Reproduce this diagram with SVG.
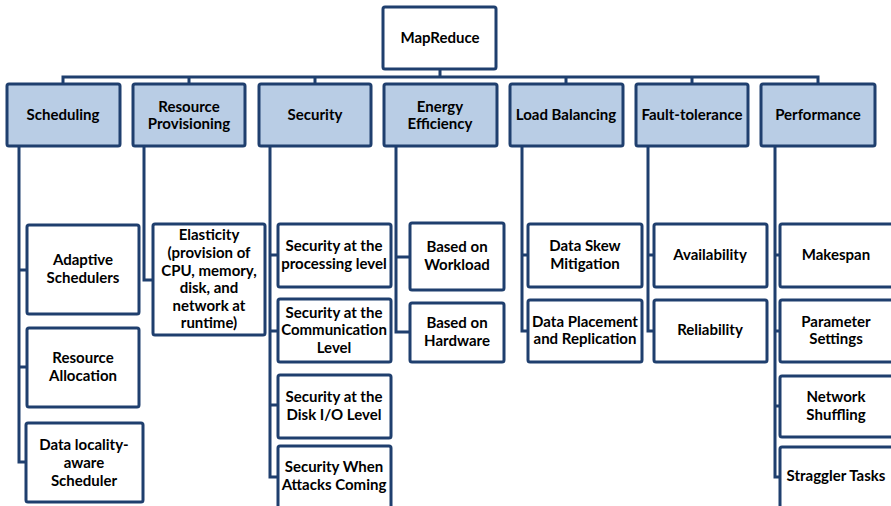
<svg xmlns="http://www.w3.org/2000/svg" width="891" height="506" viewBox="0 0 891 506">
  <style>
    .box { fill: #ffffff; stroke: #1f3f6e; stroke-width: 3; }
    .cat { fill: #b9cde5; stroke: #1f3f6e; stroke-width: 3; }
    .wire { fill: none; stroke: #1f3f6e; stroke-width: 3; stroke-linejoin: miter; }
    text { font-family: "Lato", "Open Sans", "Liberation Sans", sans-serif; font-weight: bold; font-size: 15px; fill: #000000; text-anchor: middle; }
  </style>
  <rect width="891" height="506" fill="#ffffff"/>

  <!-- connectors -->
  <g id="connectors" class="wire">
    <path d="M440 69 V77 M63 84 V77 H818 V84 M189 77 V84 M315 77 V84 M566 77 V84 M692 77 V84"/>
    <!-- Scheduling spine -->
    <path d="M19 146 V462 H26 M19 270 H27 M19 367 H27"/>
    <!-- Resource Provisioning spine -->
    <path d="M144 146 V280 H153"/>
    <!-- Security spine -->
    <path d="M270 146 V477 H278 M270 255 H278 M270 331 H278 M270 405 H278"/>
    <!-- Energy Efficiency spine -->
    <path d="M396 146 V332 H410 M396 257 H410"/>
    <!-- Load Balancing spine -->
    <path d="M522 146 V331 H528 M522 255 H528"/>
    <!-- Fault-tolerance spine -->
    <path d="M648 146 V331 H654 M648 255 H654"/>
    <!-- Performance spine -->
    <path d="M775 146 V477 H780 M775 255 H780 M775 331 H780 M775 406 H780"/>
  </g>

  <g id="root">
    <rect class="box" x="383" y="7" width="113" height="62" rx="2"/>
    <text x="440" y="43">MapReduce</text>
  </g>

  <g id="scheduling">
    <rect class="cat" x="7" y="84" width="113" height="62" rx="2"/>
    <text x="63" y="120">Scheduling</text>
  </g>
  <g id="resource-provisioning">
    <rect class="cat" x="133" y="84" width="112" height="62" rx="2"/>
    <text x="189" y="112">Resource</text>
    <text x="189" y="129">Provisioning</text>
  </g>
  <g id="security">
    <rect class="cat" x="259" y="84" width="112" height="62" rx="2"/>
    <text x="315" y="120">Security</text>
  </g>
  <g id="energy-efficiency">
    <rect class="cat" x="384" y="84" width="113" height="62" rx="2"/>
    <text x="440" y="112">Energy</text>
    <text x="440" y="129">Efficiency</text>
  </g>
  <g id="load-balancing">
    <rect class="cat" x="510" y="84" width="113" height="62" rx="2"/>
    <text x="566" y="120">Load Balancing</text>
  </g>
  <g id="fault-tolerance">
    <rect class="cat" x="636" y="84" width="112" height="62" rx="2"/>
    <text x="692" y="120">Fault-tolerance</text>
  </g>
  <g id="performance">
    <rect class="cat" x="761" y="84" width="114" height="62" rx="2"/>
    <text x="818" y="120">Performance</text>
  </g>

  <!-- Scheduling children -->
  <g id="adaptive-schedulers">
    <rect class="box" x="27" y="225" width="112" height="89" rx="2"/>
    <text x="83" y="265">Adaptive</text>
    <text x="83" y="283">Schedulers</text>
  </g>
  <g id="resource-allocation">
    <rect class="box" x="27" y="328" width="112" height="79" rx="2"/>
    <text x="83" y="363">Resource</text>
    <text x="83" y="381">Allocation</text>
  </g>
  <g id="data-locality">
    <rect class="box" x="26" y="423" width="117" height="79" rx="2"/>
    <text x="84" y="450">Data locality-</text>
    <text x="84" y="468">aware</text>
    <text x="84" y="486">Scheduler</text>
  </g>

  <!-- Resource Provisioning child -->
  <g id="elasticity">
    <rect class="box" x="153" y="224" width="112" height="111" rx="2"/>
    <text x="209" y="240">Elasticity</text>
    <text x="209" y="258">(provision of</text>
    <text x="209" y="276">CPU, memory,</text>
    <text x="209" y="293">disk, and</text>
    <text x="209" y="311">network at</text>
    <text x="209" y="328">runtime)</text>
  </g>

  <!-- Security children -->
  <g id="sec-processing">
    <rect class="box" x="278" y="224" width="113" height="63" rx="2"/>
    <text x="334" y="251">Security at the</text>
    <text x="334" y="269">processing level</text>
  </g>
  <g id="sec-communication">
    <rect class="box" x="278" y="299" width="113" height="63" rx="2"/>
    <text x="334" y="318">Security at the</text>
    <text x="334" y="335">Communication</text>
    <text x="334" y="353">Level</text>
  </g>
  <g id="sec-disk">
    <rect class="box" x="278" y="375" width="113" height="63" rx="2"/>
    <text x="334" y="402">Security at the</text>
    <text x="334" y="420">Disk I/O Level</text>
  </g>
  <g id="sec-attacks">
    <rect class="box" x="278" y="446" width="113" height="62" rx="2"/>
    <text x="334" y="472">Security When</text>
    <text x="334" y="490">Attacks Coming</text>
  </g>

  <!-- Energy Efficiency children -->
  <g id="workload">
    <rect class="box" x="410" y="223" width="94" height="67" rx="2"/>
    <text x="457" y="252">Based on</text>
    <text x="457" y="270">Workload</text>
  </g>
  <g id="hardware">
    <rect class="box" x="410" y="303" width="94" height="59" rx="2"/>
    <text x="457" y="328">Based on</text>
    <text x="457" y="346">Hardware</text>
  </g>

  <!-- Load Balancing children -->
  <g id="data-skew">
    <rect class="box" x="528" y="224" width="114" height="63" rx="2"/>
    <text x="585" y="251">Data Skew</text>
    <text x="585" y="269">Mitigation</text>
  </g>
  <g id="data-placement">
    <rect class="box" x="528" y="300" width="114" height="62" rx="2"/>
    <text x="585" y="327">Data Placement</text>
    <text x="585" y="344">and Replication</text>
  </g>

  <!-- Fault-tolerance children -->
  <g id="availability">
    <rect class="box" x="654" y="224" width="113" height="63" rx="2"/>
    <text x="710" y="260">Availability</text>
  </g>
  <g id="reliability">
    <rect class="box" x="654" y="300" width="113" height="62" rx="2"/>
    <text x="710" y="335">Reliability</text>
  </g>

  <!-- Performance children -->
  <g id="makespan">
    <rect class="box" x="780" y="224" width="115" height="63" rx="2"/>
    <text x="836" y="260">Makespan</text>
  </g>
  <g id="parameter-settings">
    <rect class="box" x="780" y="300" width="115" height="62" rx="2"/>
    <text x="836" y="327">Parameter</text>
    <text x="836" y="344">Settings</text>
  </g>
  <g id="network-shuffling">
    <rect class="box" x="780" y="376" width="115" height="61" rx="2"/>
    <text x="836" y="402">Network</text>
    <text x="836" y="420">Shuffling</text>
  </g>
  <g id="straggler-tasks">
    <rect class="box" x="780" y="447" width="115" height="62" rx="2"/>
    <text x="836" y="481">Straggler Tasks</text>
  </g>
</svg>
